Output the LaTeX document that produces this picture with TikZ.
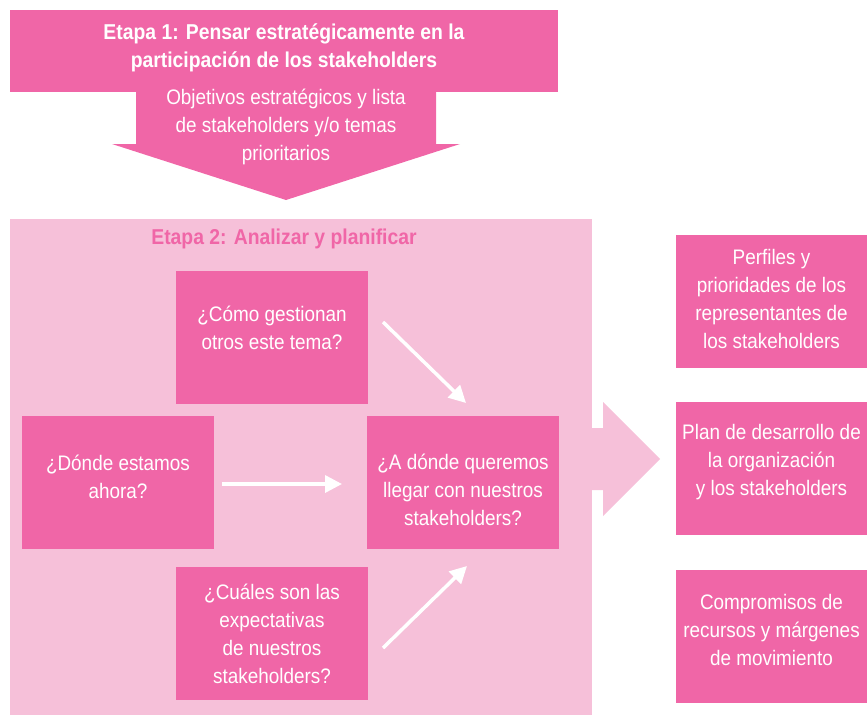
\documentclass[tikz,border=0pt]{standalone}
\usepackage{fontspec}
\setmainfont{Liberation Sans}[FakeStretch=0.9]
\usetikzlibrary{arrows.meta}
\definecolor{dpink}{RGB}{240,102,167}
\definecolor{lpink}{RGB}{246,192,217}
\tikzset{
  box/.style={fill=dpink, inner sep=0pt, minimum width=192pt, minimum height=133pt},
  wtext/.style={text=white, align=center, inner sep=0pt, font=\fontsize{21}{28}\selectfont},
  warrow/.style={draw=white, line width=3.5pt, -{Triangle[length=17pt,width=17pt]}}
}
\begin{document}
\begin{tikzpicture}[x=1pt,y=-1pt]
\useasboundingbox (0,0) rectangle (867,715);
% Stage 2 background
\fill[lpink] (10,219) rectangle (592,715);
\fill[lpink] (590,428) -- (603,428) -- (603,402) -- (660,459) -- (603,516) -- (603,490) -- (590,490) -- cycle;
% Stage 1
\fill[dpink] (136,90) -- (436,90) -- (436,144) -- (460,144) -- (286,200) -- (112,144) -- (136,144) -- cycle;
\node[fill=dpink, minimum width=548pt, minimum height=82pt, inner sep=0pt] (etapa1) at (284,51) {};
\node[text=white, align=center, inner sep=0pt, font=\bfseries\fontsize{21.5}{28}\selectfont] (t1) at (284,48)
  {Etapa 1: Pensar estratégicamente en la\\participación de los stakeholders};
\node[wtext] (obj) at (286,127) {Objetivos estratégicos y lista\\de stakeholders y/o temas\\prioritarios};
% Stage 2
\node[text=dpink, inner sep=0pt, font=\bfseries\fontsize{21.5}{26}\selectfont] (t2) at (284,239) {Etapa 2: Analizar y planificar};
\node[box] (como) at (272,337.5) {};
\node[wtext] (como-t) at (272,328) {¿Cómo gestionan\\otros este tema?};
\node[box] (donde) at (118,482.5) {};
\node[wtext] (donde-t) at (118,477) {¿Dónde estamos\\ahora?};
\node[box] (aonde) at (463,482.5) {};
\node[wtext] (aonde-t) at (463,490) {¿A dónde queremos\\llegar con nuestros\\stakeholders?};
\node[box] (cuales) at (272,633.5) {};
\node[wtext] (cuales-t) at (272,634) {¿Cuáles son las\\expectativas\\de nuestros\\stakeholders?};
% arrows
\coordinate (a1s) at (383,322);
\coordinate (a1e) at (466,403);
\coordinate (a2s) at (222,484);
\coordinate (a2e) at (342,484);
\coordinate (a3s) at (383,648);
\coordinate (a3e) at (467,566);
\draw[warrow] (a1s) -- (a1e);
\draw[warrow] (a2s) -- (a2e);
\draw[warrow] (a3s) -- (a3e);
% outputs
\node[box, minimum width=191pt] (perf) at (771.5,301.5) {};
\node[wtext] (perf-t) at (771.5,299) {Perfiles y\\prioridades de los\\representantes de\\los stakeholders};
\node[box, minimum width=191pt] (plan) at (771.5,468.5) {};
\node[wtext] (plan-t) at (771.5,462) {Plan de desarrollo de\\la organización\\y los stakeholders};
\node[box, minimum width=191pt] (comp) at (771.5,636.5) {};
\node[wtext] (comp-t) at (771.5,630) {Compromisos de\\recursos y márgenes\\de movimiento};
\end{tikzpicture}
\end{document}
